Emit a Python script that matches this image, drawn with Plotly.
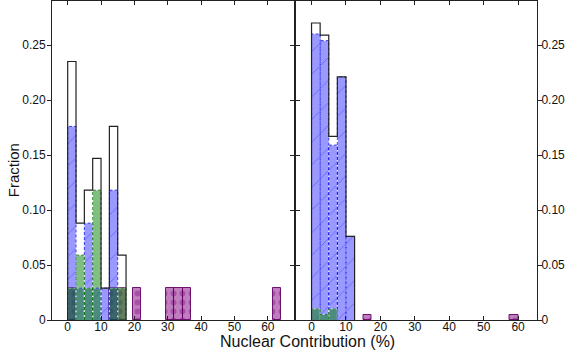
import numpy as np
import plotly.graph_objects as go

# ---------------- data ----------------
bin_width = 2.5
ytick_vals = [0, 0.05, 0.10, 0.15, 0.20, 0.25]
ytick_text = ["0", "0.05", "0.10", "0.15", "0.20", "0.25"]
xtick_vals = [0, 10, 20, 30, 40, 50, 60]

# left panel
left_bins = [0, 2.5, 5, 7.5, 10, 12.5, 15]
left_total = [0.235, 0.088, 0.118, 0.147, 0.029, 0.176, 0.059]
left_blue = [0.176, 0.029, 0.088, 0.029, 0.029, 0.118, 0.0]
left_green = [0.029, 0.059, 0.029, 0.118, 0.0, 0.029, 0.029]
left_star_bins = [0, 12.5, 15, 19.5, 29.5, 32, 34.5, 61.5]
left_star = [0.029, 0.029, 0.029, 0.029, 0.029, 0.029, 0.029, 0.029]

# right panel
right_bins = [0, 2.5, 5, 7.5, 10]
right_total = [0.270, 0.259, 0.167, 0.221, 0.076]
right_blue = [0.260, 0.254, 0.159, 0.221, 0.076]
right_green = [0.010, 0.005, 0.010, 0.0, 0.0]
right_star_bins = [15, 57.5]
right_star = [0.005, 0.005]

# ---------------- styles ----------------
BLUE_FILL = "rgba(0,0,255,0.40)"
BLUE_EDGE = "rgba(0,0,235,0.75)"
GREEN_FILL = "rgba(0,128,0,0.50)"
GREEN_EDGE = "rgba(0,110,0,0.8)"
PURP_FILL = "rgba(128,0,128,0.50)"
PURP_EDGE = "rgba(100,0,100,0.9)"
FONT = "Liberation Sans, Arial, sans-serif"

fig = go.Figure()


def centers(lefts):
    return list(np.asarray(lefts, float) + bin_width / 2)


def outline(lefts, vals):
    xs, ys = [], []
    for l, v in zip(lefts, vals):
        if v <= 0:
            continue
        r = l + bin_width
        xs += [l, l, r, r, None]
        ys += [0, v, v, 0, None]
    return xs, ys


def step(lefts, vals):
    xs, ys = [lefts[0]], [0]
    for l, v in zip(lefts, vals):
        xs += [l, l + bin_width]
        ys += [v, v]
    xs.append(lefts[-1] + bin_width)
    ys.append(0)
    return xs, ys


def dashed_edge(xa, ya, xs, ys, color):
    fig.add_trace(go.Scatter(x=xs, y=ys, mode="lines", xaxis=xa, yaxis=ya,
                             line=dict(color="rgba(255,255,255,0.6)", width=1),
                             showlegend=False, hoverinfo="skip"))
    fig.add_trace(go.Scatter(x=xs, y=ys, mode="lines", xaxis=xa, yaxis=ya,
                             line=dict(color=color, width=1, dash="3px,2px"),
                             showlegend=False, hoverinfo="skip"))


def add_panel(xa, ya, bins, total, blue, green, sbins, star):
    # purple stars (drawn first)
    fig.add_trace(go.Bar(
        x=centers(sbins), y=star, width=bin_width, xaxis=xa, yaxis=ya,
        marker=dict(color=PURP_FILL, line=dict(color=PURP_EDGE, width=1),
                    pattern=dict(shape=".", size=9, solidity=0.35,
                                 fgcolor="rgba(140,20,140,0.9)", fillmode="overlay")),
        showlegend=False, hoverinfo="skip"))
    # blue hatched
    fig.add_trace(go.Bar(
        x=centers(bins), y=blue, width=bin_width, xaxis=xa, yaxis=ya,
        marker=dict(color=BLUE_FILL, line=dict(width=0),
                    pattern=dict(shape="/", size=16, solidity=0.06,
                                 fgcolor="rgba(40,40,255,0.8)", fillmode="overlay")),
        showlegend=False, hoverinfo="skip"))
    bx, by = outline(bins, blue)
    dashed_edge(xa, ya, bx, by, BLUE_EDGE)
    # green
    fig.add_trace(go.Bar(
        x=centers(bins), y=green, width=bin_width, xaxis=xa, yaxis=ya,
        marker=dict(color=GREEN_FILL, line=dict(width=0)),
        showlegend=False, hoverinfo="skip"))
    gx, gy = outline(bins, green)
    dashed_edge(xa, ya, gx, gy, GREEN_EDGE)
    # total step outline
    sx, sy = step(bins, total)
    fig.add_trace(go.Scatter(x=sx, y=sy, mode="lines", xaxis=xa, yaxis=ya,
                             line=dict(color="#222222", width=1.2),
                             showlegend=False, hoverinfo="skip"))


add_panel("x", "y", left_bins, left_total, left_blue, left_green, left_star_bins, left_star)
add_panel("x2", "y2", right_bins, right_total, right_blue, right_green, right_star_bins, right_star)

axis_common = dict(showgrid=False, zeroline=False, showline=True, linecolor="#222222",
                   linewidth=1, mirror="ticks", tickcolor="#222222", ticklen=4,
                   automargin=False,
                   tickfont=dict(family=FONT, size=12, color="#111111"))

fig.update_layout(
    width=565, height=358,
    margin=dict(l=52, r=28, t=1, b=38, autoexpand=False),
    paper_bgcolor="white", plot_bgcolor="white",
    barmode="overlay", bargap=0,
    font=dict(family=FONT, size=12, color="#111111"),
    xaxis=dict(domain=[0, 0.5], range=[-4.7, 68.0], tickvals=xtick_vals,
               ticks="inside", ticklabelstandoff=-4, **axis_common),
    xaxis2=dict(domain=[0.5, 1], range=[-4.95, 65.5], tickvals=xtick_vals,
                ticks="inside", ticklabelstandoff=-4, anchor="y2", **axis_common),
    yaxis=dict(range=[0, 0.29], tickvals=ytick_vals, ticktext=ytick_text,
               ticks="outside", anchor="x", ticklabelstandoff=-1, **axis_common),
    yaxis2=dict(range=[0, 0.29], tickvals=ytick_vals, ticktext=ytick_text,
                ticks="outside", side="right", anchor="x2", ticklabelstandoff=-3,
                **axis_common),
    annotations=[
        dict(text="Nuclear Contribution (%)", xref="paper", yref="paper",
             x=0.527, y=-0.068, xanchor="center", yanchor="middle", showarrow=False,
             font=dict(family=FONT, size=16, color="#111111")),
        dict(text="Fraction", xref="paper", yref="paper", x=-0.080, y=0.47,
             xanchor="center", yanchor="middle", textangle=-90, showarrow=False,
             font=dict(family=FONT, size=15, color="#111111")),
    ],
)

fig.write_html("out.html", config={"displayModeBar": False},
               post_script="document.body.style.margin='0';document.body.style.padding='0';")
